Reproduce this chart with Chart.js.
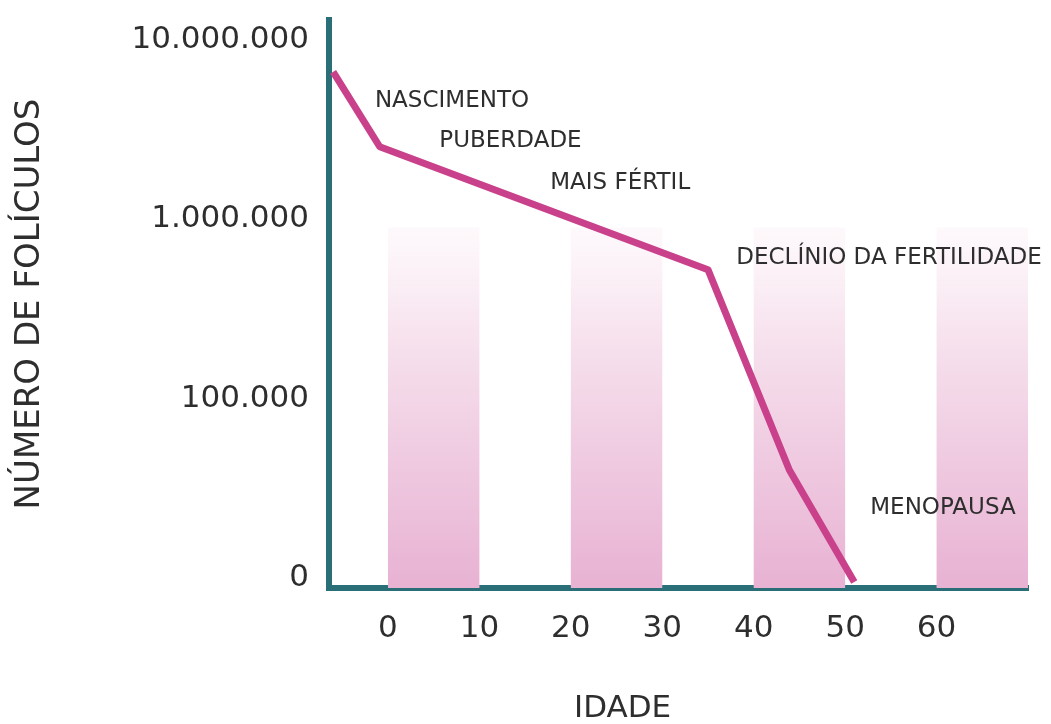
<!DOCTYPE html>
<html>
<head>
<meta charset="utf-8">
<script src="https://cdn.jsdelivr.net/npm/chart.js@4/dist/chart.umd.min.js"></script>
<style>
  html, body { margin: 0; padding: 0; background: #ffffff; }
  #wrap { width: 1051px; height: 724px; position: relative; }
</style>
</head>
<body>
<div id="wrap"><canvas id="c" width="1051" height="724"></canvas></div>
<script>
// ---- data ----
const ages = [-6.0, -0.9, 35.0, 43.9, 51.0];
const follicles = [6640000, 2540000, 524000, 40000, 9500];

const yTickValues = [10000, 100000, 1000000, 10000000];
const yTickLabels = ['0', '100.000', '1.000.000', '10.000.000'];
const xTickValues = [0, 10, 20, 30, 40, 50, 60];
const xTickLabels = ['0', '10', '20', '30', '40', '50', '60'];

const bandStarts = [0, 20, 40, 60];
const bandWidth = 10;
const bandTopValue = 900000;

const noteTexts = ['NASCIMENTO', 'PUBERDADE', 'MAIS FÉRTIL', 'DECLÍNIO DA FERTILIDADE', 'MENOPAUSA'];
const noteAges = [7.0, 13.4, 25.4, 54.8, 60.7];
const noteValues = [4570000, 2730000, 1600000, 611000, 24400];

const xTitle = 'IDADE';
const yTitle = 'NÚMERO DE FOLÍCULOS';

// ---- styles ----
const FONT = "'DejaVu Sans', sans-serif";
const TEXT = '#2e2e2e';
const TEAL = '#2a6e78';
const MAGENTA = '#c9418b';
const X_TITLE_FRAC = 0.42;   // horizontal placement of x title within chart area
const X_TITLE_Y = 709;

const bandsPlugin = {
  id: 'bands',
  beforeDatasetsDraw(chart) {
    const {ctx, chartArea, scales} = chart;
    const xs = scales.x, ys = scales.y;
    const y0 = ys.getPixelForValue(bandTopValue);
    const y1 = chartArea.bottom;
    ctx.save();
    const g = ctx.createLinearGradient(0, y0, 0, y1);
    g.addColorStop(0, 'rgba(252,242,248,0.5)');
    g.addColorStop(0.25, '#f8e6f0');
    g.addColorStop(0.6, '#f0cde2');
    g.addColorStop(1, '#e8b2d3');
    ctx.fillStyle = g;
    bandStarts.forEach(s => {
      const x0 = xs.getPixelForValue(s);
      const x1 = xs.getPixelForValue(s + bandWidth);
      ctx.fillRect(x0, y0, x1 - x0, y1 - y0);
    });
    ctx.restore();
  }
};

const notesPlugin = {
  id: 'notes',
  afterDatasetsDraw(chart) {
    const {ctx, scales, chartArea} = chart;
    ctx.save();
    ctx.font = "23px " + FONT;
    ctx.fillStyle = TEXT;
    ctx.textAlign = 'center';
    ctx.textBaseline = 'middle';
    noteTexts.forEach((t, i) => {
      ctx.fillText(t, scales.x.getPixelForValue(noteAges[i]), scales.y.getPixelForValue(noteValues[i]));
    });
    // x axis title
    ctx.font = "31px " + FONT;
    ctx.fillText(xTitle, chartArea.left + X_TITLE_FRAC * (chartArea.right - chartArea.left), X_TITLE_Y);
    ctx.restore();
  }
};

new Chart(document.getElementById('c'), {
  type: 'line',
  data: {
    datasets: [{
      data: ages.map((a, i) => ({x: a, y: follicles[i]})),
      borderColor: MAGENTA,
      borderWidth: 7,
      pointRadius: 0,
      tension: 0,
      fill: false,
      clip: false,
      borderJoinStyle: 'round'
    }]
  },
  options: {
    responsive: false,
    animation: false,
    devicePixelRatio: 1,
    layout: { padding: { top: 20, right: 23, left: 0, bottom: 0 } },
    plugins: { legend: { display: false }, tooltip: { enabled: false } },
    scales: {
      x: {
        type: 'linear',
        min: -6.45,
        max: 70,
        grid: { display: false, drawTicks: false },
        border: { display: true, color: TEAL, width: 6 },
        afterBuildTicks(scale) { scale.ticks = xTickValues.map(v => ({value: v})); },
        afterFit(scale) { scale.height = 136; scale.paddingLeft = 0; scale.paddingRight = 0; },
        ticks: {
          padding: 22,
          font: { family: FONT, size: 31 },
          color: TEXT,
          maxRotation: 0,
          callback: (v) => { const i = xTickValues.indexOf(v); return i >= 0 ? xTickLabels[i] : ''; }
        },
        title: { display: false }
      },
      y: {
        type: 'logarithmic',
        min: 8794,
        max: 12930000,
        grid: { display: false, drawTicks: false },
        border: { display: true, color: TEAL, width: 6 },
        afterBuildTicks(scale) { scale.ticks = yTickValues.map(v => ({value: v})); },
        afterFit(scale) { scale.width = 329; scale.paddingTop = 0; scale.paddingBottom = 0; },
        ticks: {
          padding: 20,
          font: { family: FONT, size: 31 },
          color: TEXT,
          callback: (v) => { const i = yTickValues.indexOf(v); return i >= 0 ? yTickLabels[i] : ''; }
        },
        title: {
          display: true, text: yTitle, color: TEXT,
          font: { family: FONT, size: 34, lineHeight: 1.2 },
          padding: { top: 10, bottom: 0 }
        }
      }
    }
  },
  plugins: [bandsPlugin, notesPlugin]
});
</script>
</body>
</html>
